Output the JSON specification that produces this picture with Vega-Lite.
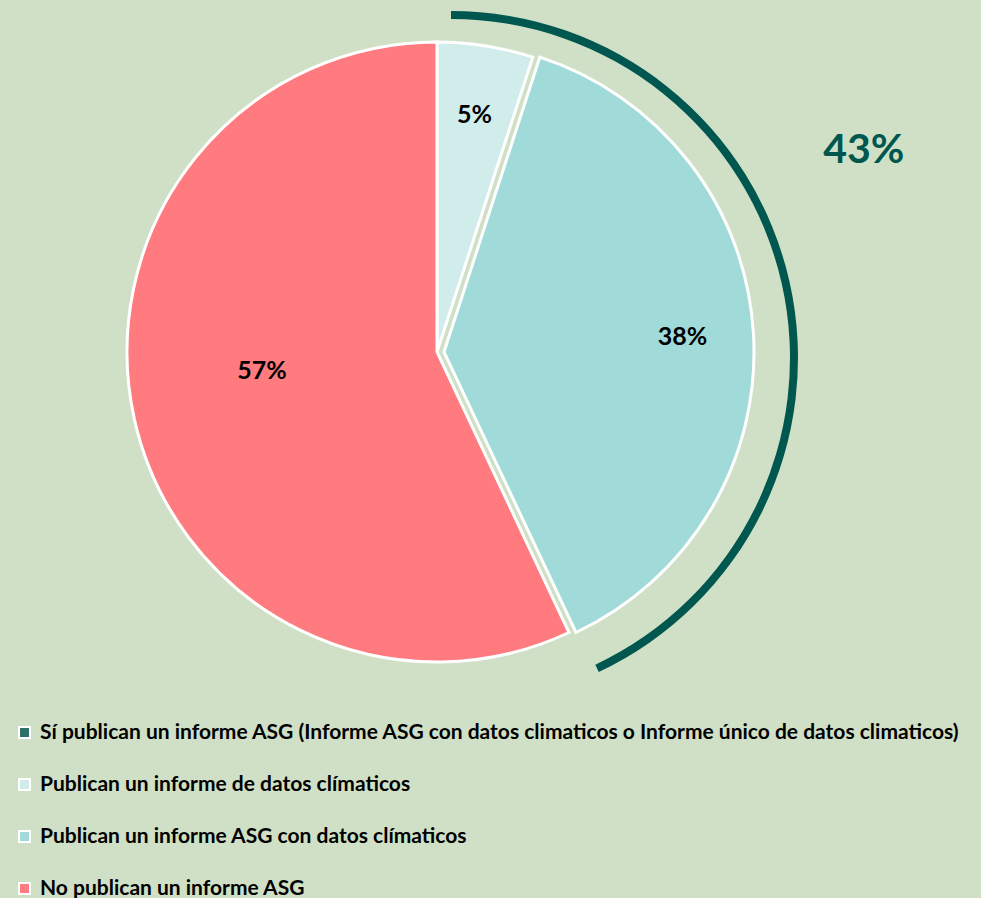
{
  "$schema": "https://vega.github.io/schema/vega-lite/v6.json",
  "width": 874,
  "height": 704,
  "autosize": "none",
  "padding": {"left": 0, "top": 0, "right": 107, "bottom": 194},
  "background": "#d0e0c6",
  "config": {"view": {"stroke": null}},
  "layer": [
    {
      "data": {"values": [
        {"part": "a", "v": 43, "lab": "43%"},
        {"part": "b", "v": 57, "lab": ""}
      ]},
      "layer": [
        {
          "mark": {"type": "arc", "innerRadius": 339, "outerRadius": 347, "xOffset": 14, "yOffset": 6, "color": "#00574f"},
          "encoding": {
            "theta": {"field": "v", "type": "quantitative", "stack": true},
            "detail": {"field": "part"},
            "opacity": {"condition": {"test": "datum.part === 'b'", "value": 0}, "value": 1}
          }
        },
        {
          "transform": [{"filter": "datum.part === 'a'"}],
          "mark": {"type": "text", "radius": 463, "xOffset": 14, "yOffset": 9, "thetaOffset": -0.25, "font": "Lato", "fontSize": 41, "fontWeight": "bold", "color": "#00574f"},
          "encoding": {
            "theta": {"field": "v", "type": "quantitative", "stack": true},
            "text": {"field": "lab"}
          }
        }
      ]
    },
    {
      "data": {"values": [
        {"cat": "Publican un informe de datos clímaticos", "v": 5, "i": 1, "lab": "5%"},
        {"cat": "Publican un informe ASG con datos clímaticos", "v": 38, "i": 2, "lab": "38%"},
        {"cat": "No publican un informe ASG", "v": 57, "i": 3, "lab": "57%"}
      ]},
      "encoding": {
        "theta": {"field": "v", "type": "quantitative", "stack": true},
        "order": {"field": "i", "type": "quantitative"}
      },
      "layer": [
        {
          "mark": {"type": "arc", "outerRadius": 310, "stroke": "white", "strokeWidth": 3,
            "xOffset": {"expr": "datum.i === 2 ? 7 : 0"}},
          "encoding": {
            "color": {
              "field": "cat", "type": "nominal",
              "scale": {
                "domain": ["Sí publican un informe ASG (Informe ASG con datos climaticos o Informe único de datos climaticos)", "Publican un informe de datos clímaticos", "Publican un informe ASG con datos clímaticos", "No publican un informe ASG"],
                "range": ["#2e6f6a", "#d1edeb", "#a0dbd9", "#ff7b7f"]
              },
              "legend": {
                "orient": "none", "legendX": 14, "legendY": 722, "direction": "vertical",
                "title": null, "symbolType": "square", "symbolSize": 120,
                "symbolStrokeColor": "white", "symbolStrokeWidth": 2, "symbolOpacity": 1,
                "labelFont": "Lato", "labelFontSize": 21, "labelFontWeight": "bold", "labelColor": "black",
                "labelLimit": 0, "rowPadding": 30, "labelOffset": 5
              }
            }
          }
        },
        {
          "mark": {"type": "text", "font": "Lato", "fontSize": 25, "fontWeight": "bold", "color": "black",
            "radius": {"expr": "datum.v > 50 ? 176 : 240"},
            "thetaOffset": {"expr": "datum.v > 50 ? 0.11 : 0"},
            "xOffset": {"expr": "datum.i === 2 ? 6 : 0"}},
          "encoding": {"text": {"field": "lab"}}
        }
      ]
    }
  ]
}
